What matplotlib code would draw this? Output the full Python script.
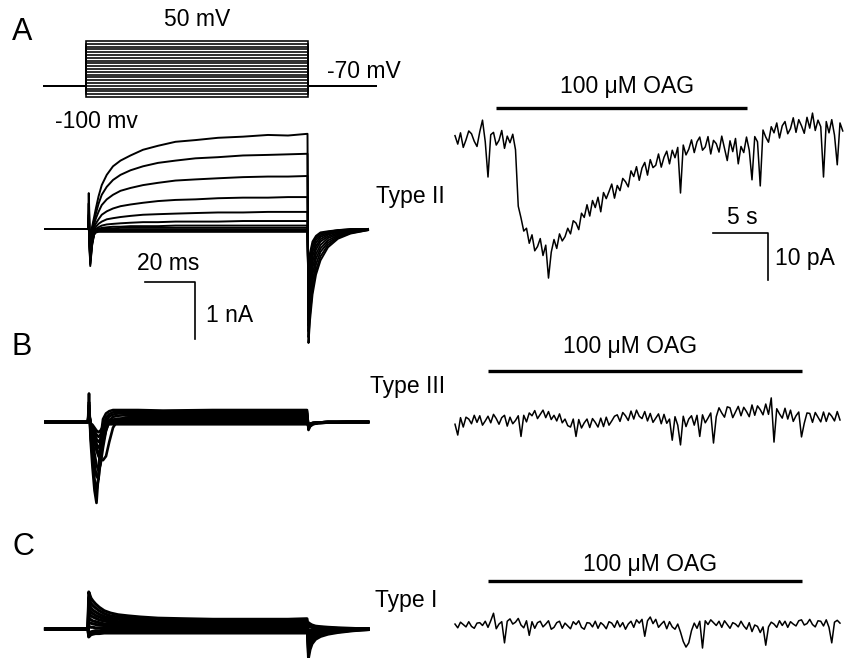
import numpy as np
import matplotlib
matplotlib.use("Agg")
import matplotlib.pyplot as plt
from matplotlib.transforms import Affine2D

plt.rcParams['font.family'] = ['Liberation Sans', 'DejaVu Sans']

# ---------------- DATA ----------------
# Voltage protocol (mV)
holding_mv = -70
step_levels_mv = [-100, -92.5, -85, -77.5, -70, -62.5, -55, -47.5, -40, -32.5, -25,
                  -17.5, -10, -2.5, 5, 12.5, 20, 27.5, 35, 42.5, 50]
protocol_t = [-17, 0, 0, 88.8, 88.8, 116]  # ms

# Panel A whole-cell currents (nA) vs time (ms)
tA = [-17, 0, 0.3, 0.9, 1.6, 2.4, 3.2, 4.2, 5.5, 7.5, 10, 13, 17, 22, 28, 35, 43, 52, 62,
      72, 80, 87.8, 88.2, 88.8, 89.8, 91.2, 93, 96, 100, 105, 112]
iA_1 = [0, 0, 0.63, -0.30, 0.03, 0.20, 0.37, 0.57, 0.77, 0.95, 1.10, 1.20, 1.29, 1.39, 1.46, 1.53, 1.56, 1.60, 1.62, 1.65, 1.64, 1.67,
        -2.0, -1.6, -1.15, -0.80, -0.55, -0.32, -0.17, -0.08, -0.02]
iA_2 = [0, 0, 0.45, -0.35, 0.0, 0.14, 0.28, 0.44, 0.60, 0.74, 0.86, 0.95, 1.03, 1.10, 1.16, 1.20, 1.24, 1.26, 1.29, 1.30, 1.31, 1.32,
        -1.9, -1.5, -1.05, -0.72, -0.48, -0.28, -0.15, -0.07, -0.02]
iA_3 = [0, 0, 0.25, -0.40, -0.05, 0.08, 0.19, 0.30, 0.42, 0.52, 0.60, 0.67, 0.72, 0.77, 0.81, 0.85, 0.87, 0.89, 0.91, 0.92, 0.92, 0.93,
        -1.8, -1.35, -0.92, -0.62, -0.40, -0.24, -0.13, -0.06, -0.01]
iA_4 = [0, 0, 0.20, -0.45, -0.10, 0.03, 0.10, 0.17, 0.25, 0.31, 0.36, 0.40, 0.43, 0.46, 0.49, 0.51, 0.52, 0.54, 0.55, 0.55, 0.56, 0.56,
        -1.7, -1.2, -0.80, -0.52, -0.34, -0.20, -0.11, -0.05, -0.01]
iA_5 = [0, 0, 0.15, -0.50, -0.15, -0.02, 0.04, 0.09, 0.13, 0.17, 0.19, 0.21, 0.23, 0.25, 0.26, 0.27, 0.28, 0.29, 0.29, 0.30, 0.30, 0.30,
        -1.6, -1.05, -0.68, -0.44, -0.28, -0.16, -0.09, -0.04, 0]
iA_6 = [0, 0, 0.12, -0.55, -0.20, -0.05, 0.0, 0.03, 0.06, 0.08, 0.09, 0.10, 0.11, 0.12, 0.12, 0.13, 0.13, 0.13, 0.14, 0.14, 0.14, 0.14,
        -1.5, -0.92, -0.58, -0.36, -0.22, -0.13, -0.07, -0.03, 0]
iA_7 = [0, 0, 0.10, -0.60, -0.25, -0.08, -0.03, 0.0, 0.02, 0.03, 0.04, 0.04, 0.05, 0.05, 0.05, 0.06, 0.06, 0.06, 0.06, 0.06, 0.06, 0.06,
        -1.4, -0.80, -0.48, -0.30, -0.18, -0.10, -0.05, -0.02, 0]
iA_8 = [0, 0, 0.08, -0.65, -0.30, -0.10, -0.04, -0.01, 0.0, 0.01, 0.01, 0.02, 0.02, 0.02, 0.02, 0.02, 0.02, 0.02, 0.02, 0.02, 0.02, 0.02,
        -1.3, -0.70, -0.40, -0.24, -0.14, -0.08, -0.04, -0.02, 0]
iA_9 = [0, 0, 0.06, -0.62, -0.28, -0.10, -0.05, -0.03, -0.02, -0.01, -0.01, -0.01, -0.01, -0.01, -0.01, -0.01, -0.01, -0.01, -0.01, -0.01, -0.01, -0.01,
        -1.2, -0.60, -0.33, -0.19, -0.11, -0.06, -0.03, -0.01, 0]
iA_10 = [0, 0, 0.05, -0.55, -0.25, -0.09, -0.05, -0.04, -0.03, -0.03, -0.03, -0.03, -0.03, -0.03, -0.03, -0.03, -0.03, -0.03, -0.03, -0.03, -0.03, -0.03,
         -1.1, -0.50, -0.27, -0.15, -0.08, -0.05, -0.02, -0.01, 0]
iA_11 = [0, 0, 0.04, -0.50, -0.22, -0.09, -0.06, -0.05, -0.05, -0.05, -0.05, -0.05, -0.05, -0.05, -0.05, -0.05, -0.05, -0.05, -0.05, -0.05, -0.05, -0.05,
         -1.0, -0.42, -0.22, -0.12, -0.06, -0.04, -0.02, 0, 0]
traces_A = [iA_1, iA_2, iA_3, iA_4, iA_5, iA_6, iA_7, iA_8, iA_9, iA_10, iA_11]

# Panel B whole-cell currents (nA)
tB = [-17, 0, 0.4, 1.0, 1.8, 2.6, 3.4, 4.2, 5.0, 6.0, 7.2, 8.5, 10, 12, 15, 20, 30, 50, 70, 87.6,
      88.2, 88.8, 90, 92, 96, 104, 112]
iB_1 = [0, 0, 0.50, -0.30, -0.80, -1.20, -1.42, -0.90, -0.30, 0.05, 0.15, 0.19, 0.21, 0.21, 0.21, 0.21, 0.20, 0.21, 0.21, 0.21, -0.14, -0.08, -0.04, -0.02, -0.01, 0, 0]
iB_2 = [0, 0, 0.35, -0.20, -0.60, -1.00, -1.20, -1.00, -0.50, -0.10, 0.08, 0.14, 0.17, 0.18, 0.18, 0.18, 0.18, 0.18, 0.18, 0.18, -0.12, -0.07, -0.035, -0.02, -0.01, 0, 0]
iB_3 = [0, 0, 0.30, -0.15, -0.40, -0.75, -0.95, -1.00, -0.70, -0.30, 0.00, 0.10, 0.13, 0.15, 0.15, 0.15, 0.15, 0.15, 0.15, 0.15, -0.11, -0.06, -0.03, -0.015, -0.01, 0, 0]
iB_4 = [0, 0, 0.25, -0.10, -0.30, -0.55, -0.75, -0.85, -0.75, -0.45, -0.15, 0.03, 0.09, 0.11, 0.12, 0.12, 0.12, 0.12, 0.12, 0.12, -0.10, -0.06, -0.03, -0.015, -0.01, 0, 0]
iB_5 = [0, 0, 0.22, -0.08, -0.20, -0.35, -0.50, -0.60, -0.66, -0.67, -0.60, -0.35, -0.10, 0.04, 0.08, 0.09, 0.09, 0.09, 0.09, 0.09, -0.09, -0.05, -0.025, -0.01, 0, 0, 0]
iB_6 = [0, 0, 0.20, -0.06, -0.15, -0.30, -0.45, -0.55, -0.50, -0.35, -0.15, 0.0, 0.04, 0.06, 0.06, 0.06, 0.06, 0.06, 0.06, 0.06, -0.08, -0.045, -0.02, -0.01, 0, 0, 0]
iB_7 = [0, 0, 0.18, -0.05, -0.12, -0.25, -0.38, -0.45, -0.40, -0.25, -0.08, 0.02, 0.04, 0.04, 0.04, 0.04, 0.04, 0.04, 0.04, 0.04, -0.07, -0.04, -0.02, -0.01, 0, 0, 0]
iB_8 = [0, 0, 0.16, -0.04, -0.10, -0.20, -0.30, -0.35, -0.30, -0.18, -0.05, 0.01, 0.02, 0.02, 0.02, 0.02, 0.02, 0.02, 0.02, 0.02, -0.06, -0.035, -0.02, -0.01, 0, 0, 0]
iB_9 = [0, 0, 0.14, -0.03, -0.08, -0.15, -0.22, -0.26, -0.22, -0.12, -0.03, 0.0, 0.0, 0.0, 0.0, 0.0, 0.0, 0.0, 0.0, 0.0, -0.05, -0.03, -0.015, -0.01, 0, 0, 0]
iB_10 = [0, 0, 0.12, -0.02, -0.05, -0.10, -0.15, -0.18, -0.15, -0.08, -0.04, -0.04, -0.04, -0.04, -0.04, -0.04, -0.04, -0.04, -0.04, -0.04, -0.05, -0.03, -0.015, -0.01, 0, 0, 0]
traces_B = [iB_1, iB_2, iB_3, iB_4, iB_5, iB_6, iB_7, iB_8, iB_9, iB_10]

# Panel C whole-cell currents (nA)
tC = [-17, 0, 0.3, 0.7, 1.2, 2, 3, 4.5, 6.5, 9, 12, 16, 21, 28, 38, 50, 65, 80, 87.6,
      88.2, 88.8, 89.6, 91, 93, 96, 100, 106, 112]
iC_1 = [0, 0, 0.65, 0.60, 0.54, 0.49, 0.44, 0.38, 0.32, 0.28, 0.25, 0.23, 0.21, 0.19, 0.18, 0.17, 0.17, 0.17, 0.18, -0.50, -0.36, -0.26, -0.18, -0.13, -0.09, -0.06, -0.03, -0.01]
iC_2 = [0, 0, 0.55, 0.50, 0.45, 0.41, 0.37, 0.32, 0.27, 0.23, 0.21, 0.19, 0.17, 0.16, 0.15, 0.14, 0.14, 0.14, 0.15, -0.42, -0.30, -0.21, -0.15, -0.11, -0.07, -0.05, -0.02, -0.01]
iC_3 = [0, 0, 0.45, 0.41, 0.37, 0.33, 0.30, 0.26, 0.22, 0.19, 0.17, 0.15, 0.14, 0.13, 0.12, 0.11, 0.11, 0.11, 0.12, -0.34, -0.24, -0.17, -0.12, -0.09, -0.06, -0.04, -0.02, 0]
iC_4 = [0, 0, 0.36, 0.33, 0.30, 0.27, 0.24, 0.21, 0.18, 0.15, 0.13, 0.12, 0.11, 0.10, 0.10, 0.09, 0.09, 0.09, 0.10, -0.27, -0.19, -0.14, -0.10, -0.07, -0.05, -0.03, -0.01, 0]
iC_5 = [0, 0, 0.28, 0.26, 0.23, 0.21, 0.19, 0.16, 0.14, 0.12, 0.10, 0.09, 0.08, 0.08, 0.07, 0.07, 0.07, 0.07, 0.08, -0.20, -0.14, -0.10, -0.07, -0.05, -0.03, -0.02, -0.01, 0]
iC_6 = [0, 0, 0.20, 0.18, 0.16, 0.14, 0.13, 0.11, 0.09, 0.08, 0.07, 0.06, 0.06, 0.05, 0.05, 0.05, 0.05, 0.05, 0.06, -0.14, -0.10, -0.07, -0.05, -0.03, -0.02, -0.01, 0, 0]
iC_7 = [0, 0, 0.12, 0.11, 0.10, 0.09, 0.08, 0.07, 0.06, 0.05, 0.04, 0.04, 0.03, 0.03, 0.03, 0.03, 0.03, 0.03, 0.04, -0.08, -0.06, -0.04, -0.03, -0.02, -0.01, 0, 0, 0]
iC_8 = [0, 0, 0.05, 0.04, 0.03, 0.03, 0.02, 0.02, 0.02, 0.01, 0.01, 0.01, 0.01, 0.01, 0.01, 0.01, 0.01, 0.01, 0.02, -0.03, -0.02, -0.01, -0.01, 0, 0, 0, 0, 0]
iC_9 = [0, 0, -0.10, -0.07, -0.05, -0.04, -0.03, -0.03, -0.02, -0.02, -0.02, -0.02, -0.02, -0.02, -0.02, -0.02, -0.02, -0.02, -0.02, 0.05, 0.04, 0.03, 0.02, 0.01, 0.01, 0, 0, 0]
iC_10 = [0, 0, -0.13, -0.10, -0.08, -0.07, -0.06, -0.06, -0.05, -0.05, -0.05, -0.05, -0.05, -0.05, -0.05, -0.05, -0.05, -0.05, -0.05, 0.09, 0.07, 0.05, 0.04, 0.03, 0.02, 0.01, 0, 0]
iC_11 = [0, 0, -0.14, -0.12, -0.10, -0.09, -0.08, -0.08, -0.07, -0.07, -0.07, -0.07, -0.07, -0.07, -0.07, -0.07, -0.07, -0.07, -0.07, 0.11, 0.09, 0.07, 0.05, 0.04, 0.03, 0.02, 0.01, 0]
traces_C = [iC_1, iC_2, iC_3, iC_4, iC_5, iC_6, iC_7, iC_8, iC_9, iC_10, iC_11]

# OAG recordings (pA), sampled every 0.25 s
oag_dt_s = 0.25
oag_A = [0.5, -1.3, 1.1, -2.0, -0.4, 1.5, 0.9, -0.7, -1.8, 1.3, 3.8, -0.8, -8.3, 0.7, 1.2, -1.5, -0.5, 1.6, -2.2, 0.4,
         -1.0, 0.8, -2.5, -14.5, -17.0, -19.8, -19.2, -22.4, -20.6, -24.0, -23.1, -21.4, -25.0, -22.8, -29.8, -24.3, -21.6, -23.5, -20.4, -21.9,
         -21.0, -19.2, -20.4, -17.6, -18.1, -19.5, -16.0, -16.9, -14.2, -16.6, -13.3, -14.8, -12.6, -15.7, -11.6, -12.9, -11.4, -9.8, -12.8, -10.1,
         -11.2, -8.6, -9.3, -10.4, -7.0, -8.2, -6.1, -9.0, -6.4, -5.2, -7.9, -4.6, -6.3, -5.8, -3.4, -6.2, -4.1, -2.8, -5.5, -2.6,
         -4.2, -2.0, -11.7, -1.5, -3.6, -2.4, -0.4, -3.1, -0.8, 0.2, -2.6, -1.9, 0.3, -3.4, -0.5, -1.2, -3.0, 0.4, -2.2, -4.8,
         -0.6, -2.9, -0.1, -5.5, -1.8, -3.1, 0.2, -2.6, -8.9, 0.3, -0.8, -10.2, 1.7, 0.2, -0.9, 2.4, 1.1, 3.2, 0.0, 2.6,
         3.5, 0.9, 2.0, 4.3, 1.2, 3.9, 2.6, 1.0, 4.4, 2.1, 5.3, 1.6, 3.8, 2.4, -8.3, 3.5, 1.1, 3.9, 0.6, -5.7,
         3.2, 1.5]
oag_B = [-0.9, -3.2, 0.5, -1.5, 0.6, 0.2, -0.8, 1.0, -0.5, 0.9, -1.1, -0.2, 0.8, -0.6, 1.2, 0.3, -0.9, 0.5, 1.0, -1.3,
         0.6, -0.8, -0.1, 0.9, -3.5, 1.0, -0.4, 1.5, 0.9, 2.0, 0.3, 1.2, 2.1, 0.5, 1.8, 0.1, 1.0, -0.2, 1.3, -0.6,
         0.2, -1.2, -1.5, 0.2, -3.5, 0.1, -1.7, -0.6, 0.2, -1.6, 0.3, -0.5, -1.5, 0.4, -1.4, 0.6, -1.1, -0.2, 0.8, 1.1,
         -0.3, 1.6, 0.9, -0.1, 1.9, 0.2, 2.1, 0.8, 0.3, 1.8, -0.2, 1.4, -0.5, 0.4, 1.3, -0.8, 1.2, -0.7, 0.2, -4.3,
         0.7, -1.1, -5.3, 0.8, -1.4, 0.2, 0.9, -1.1, 1.0, -3.5, 1.1, -0.6, 0.4, 1.5, -4.9, 0.7, 2.6, 1.5, 0.6, 2.8,
         2.6, 0.5, 1.7, 2.9, 0.9, 2.7, 1.8, 0.7, 3.2, 1.0, 3.0, 2.2, 1.1, 3.4, 1.2, 4.7, -4.7, 2.4, 1.3, 0.4,
         2.5, 0.2, 2.1, -0.3, 0.9, 1.7, -3.6, -0.7, 1.5, 1.4, -0.5, 1.6, 0.6, -0.4, 1.7, -0.3, 1.5, 0.8, -0.2, 1.8,
         0.0]
oag_C = [0.2, -0.6, 0.6, 0.1, -0.4, 0.7, -0.3, -0.7, 0.4, 0.5, -0.1, 0.8, -0.5, 0.9, 2.5, -0.8, 0.2, 0.7, -3.8, 0.8,
         1.3, 0.2, 0.6, 1.4, 0.0, -0.6, 0.9, -2.2, 0.7, -0.7, 0.5, 0.8, -0.4, 0.2, 0.9, -0.9, -0.5, 0.5, 0.8, -0.7,
         0.4, -0.2, -0.8, 0.7, 0.1, 0.9, -0.5, -0.9, 0.5, 0.4, -0.4, 0.8, -0.7, 0.5, 0.0, -0.8, 0.7, 0.4, -0.5, 0.9,
         -0.4, 0.5, -0.9, 0.2, 0.8, -0.5, 1.1, 0.4, 1.2, -2.4, 0.9, 1.7, 0.3, 1.2, -0.5, 0.2, 0.8, -0.8, 0.7, -0.4,
         -0.9, 0.2, -1.5, -3.5, -4.7, -3.8, -1.2, 0.4, -0.7, 0.8, -4.9, 0.9, 0.1, 1.1, 0.5, -0.1, 0.8, -0.5, 0.9, 0.1,
         -0.7, 0.5, 0.2, -0.4, 0.8, -0.2, -0.9, 0.5, -1.4, 0.0, -0.3, -1.6, -0.4, -4.3, -0.4, 0.6, 0.2, -0.5, 0.9, -0.1,
         0.8, -0.5, 0.7, 0.2, -0.2, 0.9, 1.1, 0.0, 0.3, 1.2, 0.1, -0.4, 0.9, 0.8, -0.2, 1.1, -0.5, -3.8, 0.6, 1.0,
         0.4]

# OAG application windows (s)
oag_window_A = (3.7, 26.5)
oag_window_B = (3.0, 31.5)
oag_window_C = (3.0, 31.5)

# Scale bar sizes
bar_ms, bar_nA = 20, 1
bar_s, bar_pA = 5, 10

# ---------------- FIGURE ----------------
W, H = 846, 658
fig = plt.figure(figsize=(W / 100, H / 100), dpi=100)
ax = fig.add_axes([0, 0, 1, 1])
ax.set_xlim(0, W)
ax.set_ylim(H, 0)
ax.axis('off')


def panel(x0, y0, sx, sy):
    """Transform from physical units of a panel to the page."""
    return Affine2D().scale(sx, -sy).translate(x0, y0) + ax.transData


# scales: 20 ms = 50 px, 1 nA = 57 px; 5 s = 55 px, 10 pA = 47 px
SX_MS, SY_NA = 2.5, 57.0
SX_S, SY_PA = 11.0, 4.7

# --- voltage protocol ---
tr_prot = Affine2D().scale(2.5, -0.3733).translate(86, 59.7) + ax.transData
for v in step_levels_mv:
    ax.plot(protocol_t, [holding_mv, holding_mv, v, v, holding_mv, holding_mv],
            color='black', lw=1.15, transform=tr_prot, solid_joinstyle='miter')

# --- left current families ---
trA = panel(88, 229, SX_MS, SY_NA)
trB = panel(88, 422, SX_MS, SY_NA)
trC = panel(88, 629, SX_MS, SY_NA)
for tr_, t_, fam, lw in [(trA, tA, traces_A, 1.4), (trB, tB, traces_B, 1.9), (trC, tC, traces_C, 2.2)]:
    for y in fam:
        ax.plot(t_, y, color='black', lw=lw, transform=tr_)

# scale bar A-left
sb_t, sb_i = 22.8, -0.93
ax.plot([sb_t, sb_t + bar_ms, sb_t + bar_ms], [sb_i, sb_i, sb_i - bar_nA],
        color='black', lw=1.2, transform=trA)

# --- right OAG traces ---
rA = panel(455, 138, SX_S, SY_PA)
rB = panel(455, 420, SX_S, SY_PA)
rC = panel(455, 625, SX_S, SY_PA)
for tr_, vals, win, lvl in [(rA, oag_A, oag_window_A, 6.4),
                            (rB, oag_B, oag_window_B, 10.4),
                            (rC, oag_C, oag_window_C, 9.4)]:
    t = np.arange(len(vals)) * oag_dt_s
    ax.plot(t, vals, color='black', lw=1.1, transform=tr_)
    ax.plot(win, [lvl, lvl], color='black', lw=2.4, transform=tr_, solid_capstyle='butt')

# scale bar A-right
rs_t, rs_i = 23.45, -20.2
ax.plot([rs_t, rs_t + bar_s, rs_t + bar_s], [rs_i, rs_i, rs_i - bar_pA],
        color='black', lw=1.2, transform=rA)

# --- text ---
fs = 16.5
for s, x, y in [('A', 12, 32), ('B', 12, 347), ('C', 12, 547)]:
    ax.text(x, y, s, fontsize=22, ha='left', va='center')
labels = [
    ('50 mV', 197, 20), ('-70 mV', 364, 72), ('-100 mv', 96, 121),
    ('20 ms', 168, 264), ('1 nA', 230, 315),
    ('Type II', 410, 197), ('Type III', 408, 386), ('Type I', 406, 600),
    ('100 μM OAG', 627, 86), ('100 μM OAG', 630, 347), ('100 μM OAG', 650, 564),
    ('5 s', 742, 217), ('10 pA', 805, 258),
]
for s, x, y in labels:
    ax.text(x, y, s, fontsize=fs, ha='center', va='center')

fig.savefig('out.png', dpi=100)
